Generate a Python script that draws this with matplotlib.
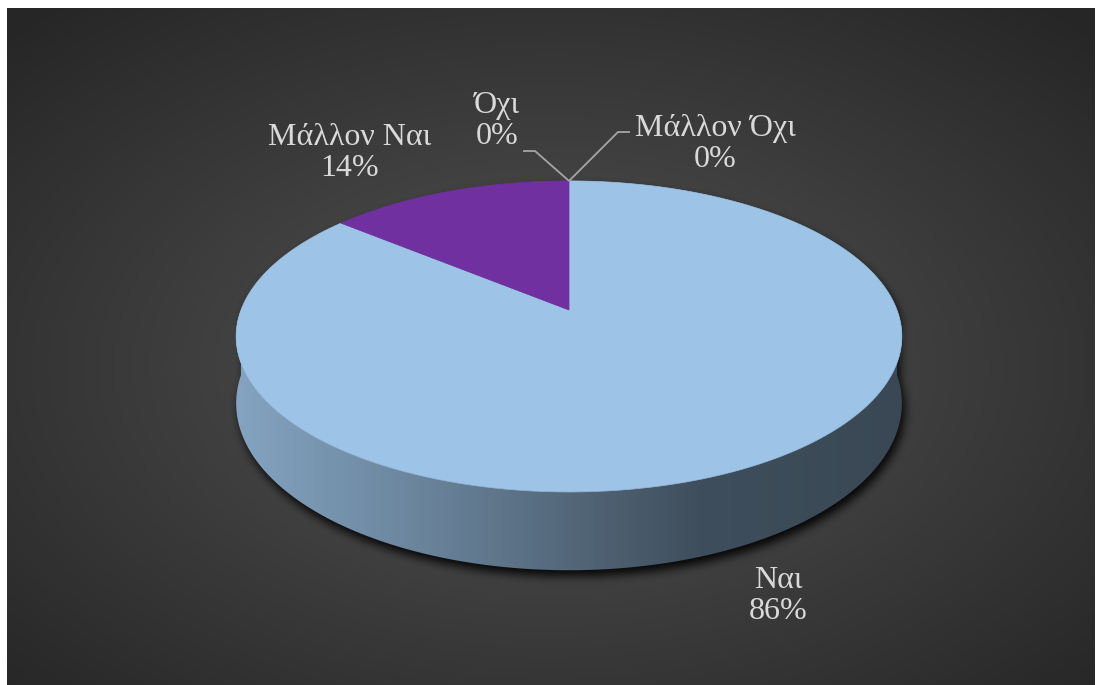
import numpy as np
import matplotlib
matplotlib.use("Agg")
import matplotlib.pyplot as plt
from matplotlib.patches import Polygon
from matplotlib.path import Path

# Survey answers
labels = ["Ναι", "Μάλλον Ναι", "Όχι", "Μάλλον Όχι"]
values = [86, 14, 0, 0]
colors = ["#9DC3E6", "#7030A0", "#A5A5A5", "#FFC000"]

W, H = 1096, 685
fig = plt.figure(figsize=(W / 100, H / 100), dpi=100, facecolor="white")
ax = fig.add_axes([0, 0, 1, 1])

# ---- dark radial-gradient chart area ----
x0, y0, x1, y1 = 7, 8, 1095, 685
yy, xx = np.mgrid[y0:y1, x0:x1] + 0.5
gcx, gcy = (x0 + x1) / 2, (y0 + y1) / 2 + 20
r = np.hypot((xx - gcx) / ((x1 - x0) / 2), (yy - gcy) / ((y1 - y0) / 2)) / np.sqrt(2)
g = (84 - 46 * np.clip(r, 0, 1)) / 255
ax.imshow(np.dstack([g, g, g]), extent=(x0, x1, y1, y0), zorder=0,
          interpolation="bilinear")

# ---- 3-D pie geometry (perspective-projected disc) ----
cx, cy = 569, 310          # pie centre on screen
A, B = 328, 151            # horizontal / depth radii
k = 0.17                   # perspective strength
depth = 65                 # thickness of the pie


def proj(theta_deg, z=0.0, rad=1.0):
    t = np.radians(theta_deg)
    s = -np.sin(t) * rad
    w = 1 - k * s
    return cx + A * rad * np.cos(t) / w, cy + (B * s + z) / w


total = float(sum(values))
fracs = [v / total for v in values]
spans = []
a = 90.0
for f in fracs:
    spans.append((a, a - 360.0 * f))
    a -= 360.0 * f

# ---- soft drop shadow under the pie ----
tt_back = np.linspace(0, 180, 200)
tt_front = np.linspace(180, 360, 200)
top_x, top_y = proj(tt_back)
bot_x, bot_y = proj(tt_front, depth)
sil = np.column_stack([np.r_[top_x, bot_x], np.r_[top_y, bot_y]]) + [3, 6]
path = Path(sil)
pts = np.column_stack([xx.ravel(), yy.ravel()])
mask = path.contains_points(pts).reshape(xx.shape).astype(float)


def box_blur(img, rad):
    for axis in (0, 1):
        pad = [(0, 0), (0, 0)]
        pad[axis] = (rad + 1, rad)
        c = np.cumsum(np.pad(img, pad, mode="edge"), axis=axis)
        if axis == 0:
            img = (c[2 * rad + 1:, :] - c[:-2 * rad - 1, :]) / (2 * rad + 1)
        else:
            img = (c[:, 2 * rad + 1:] - c[:, :-2 * rad - 1]) / (2 * rad + 1)
    return img


for _ in range(3):
    mask = box_blur(mask, 4)
shadow = np.zeros(mask.shape + (4,))
shadow[..., 3] = np.clip(mask, 0, 1) * 0.9
ax.imshow(shadow, extent=(x0, x1, y1, y0), zorder=1, interpolation="bilinear")

# ---- side walls (front half only), shaded left-to-right ----
shade_x = [236, 450, 700, 902]
shade_f = [0.84, 0.65, 0.40, 0.37]
gx = np.linspace(cx - A - 10, cx + A + 10, 800)
for (a_start, a_end), col in zip(spans, colors):
    if a_start == a_end:
        continue
    tt = np.linspace(a_end, a_start, 2000)
    front = tt[np.sin(np.radians(tt)) <= 0]
    if front.size < 2:
        continue
    tx_, ty_ = proj(front)
    bx_, by_ = proj(front[::-1], depth)
    side = Polygon(np.column_stack([np.r_[tx_, bx_], np.r_[ty_, by_]]),
                   closed=True, facecolor="none", edgecolor="none")
    ax.add_patch(side)
    base = np.array(matplotlib.colors.to_rgb(col))
    grad = np.clip(base[None, :] * np.interp(gx, shade_x, shade_f)[:, None], 0, 1)
    img = ax.imshow(grad[None, :, :], extent=(gx[0], gx[-1], cy + 2 * B, cy - 10),
                    zorder=2, interpolation="bilinear")
    img.set_clip_path(side)

# ---- top faces ----
for (a_start, a_end), col in zip(spans, colors):
    if a_start == a_end:
        continue
    tt = np.linspace(a_start, a_end, 400)
    ex, ey = proj(tt)
    poly = np.column_stack([np.r_[cx, ex], np.r_[cy, ey]])
    ax.add_patch(Polygon(poly, closed=True, facecolor=col, edgecolor=col,
                         linewidth=0.5, zorder=3))

# ---- data labels ----
label_pos = [(778, 596), (350, 153), (497, 121), (715, 144)]
leader_end = [None, None, [(535, 151), (523, 151)], [(618, 132), (630, 132)]]
text_kw = dict(ha="center", va="center", fontsize=23, color="#D9D9D9",
               family=["Liberation Serif", "DejaVu Serif"], linespacing=1.05,
               zorder=5)
for name, v, (tx, ty), (a_start, a_end), lead in zip(labels, values, label_pos,
                                                       spans, leader_end):
    ax.text(tx, ty, f"{name}\n{v / total:.0%}", **text_kw)
    if lead is not None:
        px, py = proj(a_start)
        lx = [px] + [p[0] for p in lead]
        ly = [py] + [p[1] for p in lead]
        ax.plot(lx, ly, color="#A6A6A6", linewidth=1.3, zorder=4,
                solid_capstyle="butt")

ax.set_aspect("auto")
ax.set_xlim(0, W)
ax.set_ylim(H, 0)
ax.axis("off")
fig.savefig("out.png", dpi=100, facecolor="white")
